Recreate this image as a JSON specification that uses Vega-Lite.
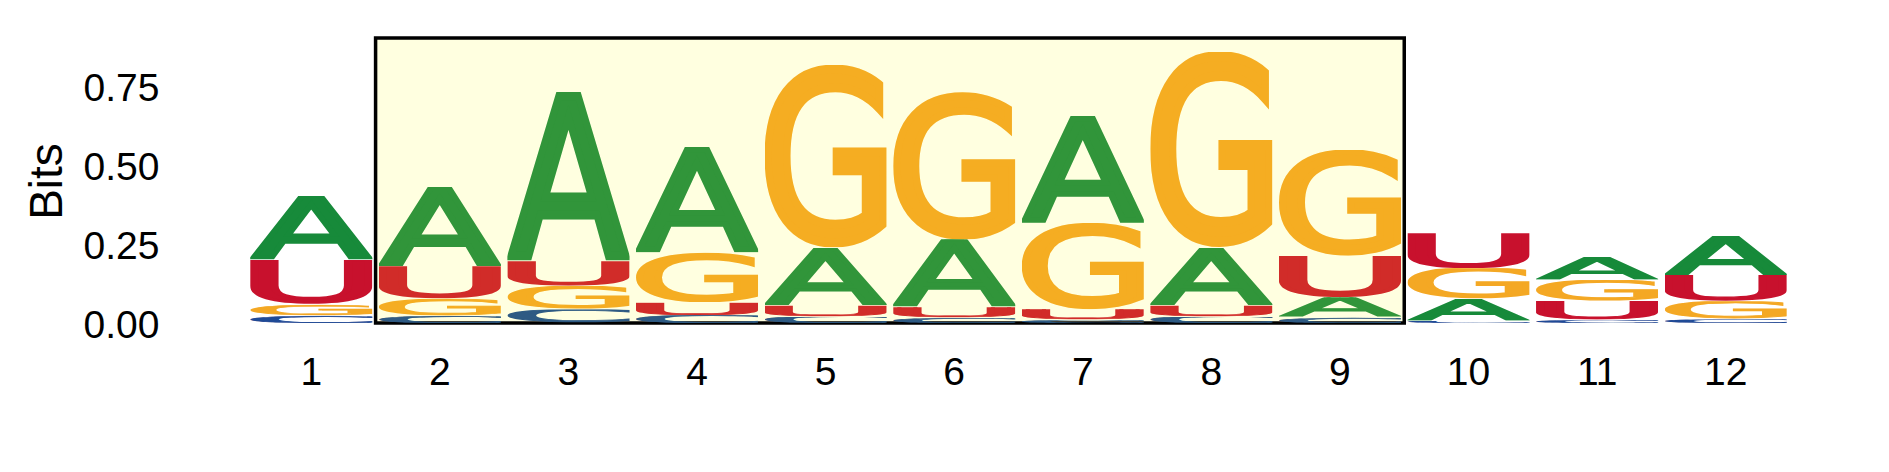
{
  "$schema": "https://vega.github.io/schema/vega-lite/v6.json",
  "description": "Sequence logo, positions 1-12, highlighted range 2-9.",
  "width": 1543,
  "height": 285,
  "autosize": "none",
  "padding": {"left": 247, "top": 38, "right": 99, "bottom": 149},
  "config": {"view": {"stroke": null}, "font": "Liberation Sans"},
  "layer": [
    {
      "data": {"values": [{"start": 1.5, "end": 9.5}]},
      "mark": {"type": "rect", "fill": "#ffffe0", "stroke": "#000000", "strokeWidth": 3.5},
      "encoding": {
        "x": {"field": "start", "type": "quantitative", "scale": {"domain": [0.5, 12.5], "nice": false, "zero": false}, "axis": null},
        "x2": {"field": "end"}
      }
    },
    {
      "data": {
        "values": [
          {"pos": 1, "letter": "C", "bits": 0.024}, {"pos": 1, "letter": "G", "bits": 0.035}, {"pos": 1, "letter": "U", "bits": 0.141}, {"pos": 1, "letter": "A", "bits": 0.203},
          {"pos": 2, "letter": "C", "bits": 0.023}, {"pos": 2, "letter": "G", "bits": 0.055}, {"pos": 2, "letter": "U", "bits": 0.103}, {"pos": 2, "letter": "A", "bits": 0.252},
          {"pos": 3, "letter": "C", "bits": 0.043}, {"pos": 3, "letter": "G", "bits": 0.075}, {"pos": 3, "letter": "U", "bits": 0.080}, {"pos": 3, "letter": "A", "bits": 0.536},
          {"pos": 4, "letter": "C", "bits": 0.025}, {"pos": 4, "letter": "U", "bits": 0.041}, {"pos": 4, "letter": "G", "bits": 0.158}, {"pos": 4, "letter": "A", "bits": 0.334},
          {"pos": 5, "letter": "C", "bits": 0.020}, {"pos": 5, "letter": "U", "bits": 0.037}, {"pos": 5, "letter": "A", "bits": 0.183}, {"pos": 5, "letter": "G", "bits": 0.579},
          {"pos": 6, "letter": "C", "bits": 0.017}, {"pos": 6, "letter": "U", "bits": 0.033}, {"pos": 6, "letter": "A", "bits": 0.216}, {"pos": 6, "letter": "G", "bits": 0.468},
          {"pos": 7, "letter": "C", "bits": 0.010}, {"pos": 7, "letter": "U", "bits": 0.034}, {"pos": 7, "letter": "G", "bits": 0.273}, {"pos": 7, "letter": "A", "bits": 0.340},
          {"pos": 8, "letter": "C", "bits": 0.020}, {"pos": 8, "letter": "U", "bits": 0.037}, {"pos": 8, "letter": "A", "bits": 0.182}, {"pos": 8, "letter": "G", "bits": 0.622},
          {"pos": 9, "letter": "C", "bits": 0.019}, {"pos": 9, "letter": "A", "bits": 0.063}, {"pos": 9, "letter": "U", "bits": 0.131}, {"pos": 9, "letter": "G", "bits": 0.336},
          {"pos": 10, "letter": "C", "bits": 0.007}, {"pos": 10, "letter": "A", "bits": 0.070}, {"pos": 10, "letter": "G", "bits": 0.097}, {"pos": 10, "letter": "U", "bits": 0.111},
          {"pos": 11, "letter": "C", "bits": 0.010}, {"pos": 11, "letter": "U", "bits": 0.060}, {"pos": 11, "letter": "G", "bits": 0.067}, {"pos": 11, "letter": "A", "bits": 0.072},
          {"pos": 12, "letter": "C", "bits": 0.012}, {"pos": 12, "letter": "G", "bits": 0.057}, {"pos": 12, "letter": "U", "bits": 0.083}, {"pos": 12, "letter": "A", "bits": 0.124}
        ]
      },
      "transform": [
        {"stack": "bits", "groupby": ["pos"], "sort": [{"field": "bits", "order": "ascending"}], "as": ["y0", "y1"]}
      ],
      "encoding": {
        "x": {
          "field": "pos", "type": "ordinal",
          "scale": {"domain": [1, 2, 3, 4, 5, 6, 7, 8, 9, 10, 11, 12], "paddingInner": 0.05, "paddingOuter": 0.025},
          "axis": {"title": null, "labelAngle": 0, "labelFontSize": 39, "labelFont": "Liberation Sans", "labelColor": "#000000", "labelPadding": 30, "labelBaseline": "top", "ticks": false, "tickSize": 0, "domain": false, "grid": false}
        },
        "y": {
          "field": "y1", "type": "quantitative",
          "scale": {"domain": [0, 0.904], "nice": false, "zero": false},
          "axis": {"values": [0, 0.25, 0.5, 0.75], "format": ".2f", "title": "Bits", "titleFontSize": 46, "titleFont": "Liberation Sans", "titleFontWeight": "normal", "titleColor": "#000000", "titleAngle": -90, "titleAlign": "center", "titleBaseline": "alphabetic", "titleX": -186, "titleY": 143, "labelFontSize": 39, "labelFont": "Liberation Sans", "labelColor": "#000000", "labelPadding": 88, "labelOffset": 2, "ticks": false, "tickSize": 0, "domain": false, "grid": false}
        },
        "y2": {"field": "y0"}
      },
      "layer": [
        {
          "transform": [{"filter": {"and": [{"field": "letter", "equal": "A"}, {"field": "pos", "range": [2, 9]}]}}],
          "mark": {"type": "image", "aspect": false, "url": "data:image/svg+xml,%3Csvg xmlns='http://www.w3.org/2000/svg' viewBox='-1.2 -74.9 70.8 76.9' width='70.8' height='76.9' preserveAspectRatio='none'%3E%3Ctext x='0' y='0' font-family='DejaVu Sans, sans-serif' font-weight='400' font-size='100' fill='%2331953a' stroke='%2331953a' stroke-width='4'%3EA%3C/text%3E%3C/svg%3E"}
        },
        {
          "transform": [{"filter": {"and": [{"field": "letter", "equal": "A"}, {"not": {"field": "pos", "range": [2, 9]}}]}}],
          "mark": {"type": "image", "aspect": false, "url": "data:image/svg+xml,%3Csvg xmlns='http://www.w3.org/2000/svg' viewBox='-1.2 -74.9 70.8 76.9' width='70.8' height='76.9' preserveAspectRatio='none'%3E%3Ctext x='0' y='0' font-family='DejaVu Sans, sans-serif' font-weight='400' font-size='100' fill='%23178a3a' stroke='%23178a3a' stroke-width='4'%3EA%3C/text%3E%3C/svg%3E"}
        },
        {
          "transform": [{"filter": {"and": [{"field": "letter", "equal": "C"}, {"field": "pos", "range": [2, 9]}]}}],
          "mark": {"type": "image", "aspect": false, "url": "data:image/svg+xml,%3Csvg xmlns='http://www.w3.org/2000/svg' viewBox='3.6 -76.2 61.4 79.6' width='61.4' height='79.6' preserveAspectRatio='none'%3E%3Ctext x='0' y='0' font-family='DejaVu Sans, sans-serif' font-weight='400' font-size='100' fill='%232e5a83' stroke='%232e5a83' stroke-width='4'%3EC%3C/text%3E%3C/svg%3E"}
        },
        {
          "transform": [{"filter": {"and": [{"field": "letter", "equal": "C"}, {"not": {"field": "pos", "range": [2, 9]}}]}}],
          "mark": {"type": "image", "aspect": false, "url": "data:image/svg+xml,%3Csvg xmlns='http://www.w3.org/2000/svg' viewBox='3.6 -76.2 61.4 79.6' width='61.4' height='79.6' preserveAspectRatio='none'%3E%3Ctext x='0' y='0' font-family='DejaVu Sans, sans-serif' font-weight='400' font-size='100' fill='%231f4a96' stroke='%231f4a96' stroke-width='4'%3EC%3C/text%3E%3C/svg%3E"}
        },
        {
          "transform": [{"filter": {"and": [{"field": "letter", "equal": "G"}, {"field": "pos", "range": [2, 9]}]}}],
          "mark": {"type": "image", "aspect": false, "url": "data:image/svg+xml,%3Csvg xmlns='http://www.w3.org/2000/svg' viewBox='3.6 -76.2 67.7 79.6' width='67.7' height='79.6' preserveAspectRatio='none'%3E%3Ctext x='0' y='0' font-family='DejaVu Sans, sans-serif' font-weight='400' font-size='100' fill='%23f5ad22' stroke='%23f5ad22' stroke-width='4'%3EG%3C/text%3E%3C/svg%3E"}
        },
        {
          "transform": [{"filter": {"and": [{"field": "letter", "equal": "G"}, {"not": {"field": "pos", "range": [2, 9]}}]}}],
          "mark": {"type": "image", "aspect": false, "url": "data:image/svg+xml,%3Csvg xmlns='http://www.w3.org/2000/svg' viewBox='3.6 -76.2 67.7 79.6' width='67.7' height='79.6' preserveAspectRatio='none'%3E%3Ctext x='0' y='0' font-family='DejaVu Sans, sans-serif' font-weight='400' font-size='100' fill='%23f4a824' stroke='%23f4a824' stroke-width='4'%3EG%3C/text%3E%3C/svg%3E"}
        },
        {
          "transform": [{"filter": {"and": [{"field": "letter", "equal": "U"}, {"field": "pos", "range": [2, 9]}]}}],
          "mark": {"type": "image", "aspect": false, "url": "data:image/svg+xml,%3Csvg xmlns='http://www.w3.org/2000/svg' viewBox='6.7 -74.9 59.8 78.3' width='59.8' height='78.3' preserveAspectRatio='none'%3E%3Ctext x='0' y='0' font-family='DejaVu Sans, sans-serif' font-weight='400' font-size='100' fill='%23d12c29' stroke='%23d12c29' stroke-width='4'%3EU%3C/text%3E%3C/svg%3E"}
        },
        {
          "transform": [{"filter": {"and": [{"field": "letter", "equal": "U"}, {"not": {"field": "pos", "range": [2, 9]}}]}}],
          "mark": {"type": "image", "aspect": false, "url": "data:image/svg+xml,%3Csvg xmlns='http://www.w3.org/2000/svg' viewBox='6.7 -74.9 59.8 78.3' width='59.8' height='78.3' preserveAspectRatio='none'%3E%3Ctext x='0' y='0' font-family='DejaVu Sans, sans-serif' font-weight='400' font-size='100' fill='%23c8112d' stroke='%23c8112d' stroke-width='4'%3EU%3C/text%3E%3C/svg%3E"}
        }
      ]
    }
  ],
  "resolve": {"scale": {"x": "independent"}, "axis": {"x": "independent"}}
}
